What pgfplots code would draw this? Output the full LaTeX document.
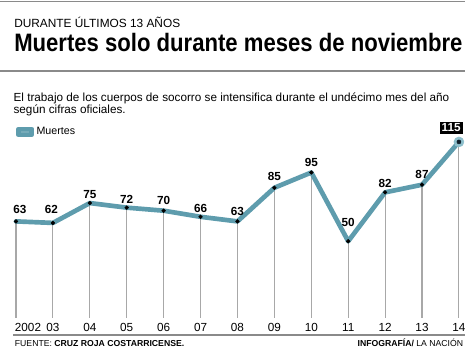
\documentclass[border=0pt]{standalone}
\usepackage{pgfplots}
\pgfplotsset{compat=1.18}
\usepackage{pgfplotstable}
\usepackage{fontspec}
\setmainfont{Liberation Sans}
\definecolor{lineteal}{HTML}{5E9CAD}
\definecolor{ringteal}{HTML}{8DBFCC}
\definecolor{rulegray}{HTML}{8A8A8A}
\definecolor{combgray}{HTML}{A8A8A8}
\definecolor{dotnavy}{HTML}{0F1E2A}
\pgfplotstableread{
x y yo xo
0 63 9.0 3.0
1 62 9.75 -1.1
2 75 6.75 0
3 72 6.0 0
4 70 7.5 0
5 66 6.4 0
6 63 7.5 0
7 85 8.25 0
8 95 7.3 0
9 50 13.9 0
10 82 6.75 0
11 87 7.9 0
}\labeled
\pgfplotstableread{
x y
0 63
1 62
2 75
3 72
4 70
5 66
6 63
7 85
8 95
9 50
10 82
11 87
12 115
}\full
\pgfplotstableread{
x y
12 115
}\last
\begin{document}
\begin{tikzpicture}
\path[use as bounding box] (0,0) rectangle (354pt,264.75pt);
% rules
\draw[rulegray, line width=1.1pt] (0,263.6pt) -- (348.75pt,263.6pt);
\draw[rulegray, line width=1.1pt] (0,211.5pt) -- (348.75pt,211.5pt);
\draw[rulegray, line width=0.8pt] (9.75pt,13.5pt) -- (348.75pt,13.5pt);
% titles
\node[anchor=base west, inner sep=0pt] at (10.5pt,243.75pt) {\fontsize{8.9}{10}\selectfont DURANTE ÚLTIMOS 13 AÑOS};
\node[anchor=base west, inner sep=0pt] at (10.5pt,225.75pt) {\scalebox{0.877}[1]{\fontsize{18.9}{20}\selectfont\bfseries Muertes solo durante meses de noviembre}};
\node[anchor=base west, inner sep=0pt] at (10pt,188.5pt) {\fontsize{8.8}{9}\selectfont El trabajo de los cuerpos de socorro se intensifica durante el undécimo mes del año};
\node[anchor=base west, inner sep=0pt] at (10pt,179.8pt) {\fontsize{8.8}{9}\selectfont según cifras oficiales.};
% footer
\node[anchor=base west, inner sep=0pt] at (11pt,4.7pt) {\fontsize{6.5}{8}\selectfont FUENTE: \textbf{CRUZ ROJA COSTARRICENSE.}};
\node[anchor=base east, inner sep=0pt] at (347.5pt,4.7pt) {\fontsize{6.5}{8}\selectfont \textbf{INFOGRAFÍA/} LA NACIÓN};
\begin{axis}[
  at={(12pt,26.5pt)}, anchor=south west,
  scale only axis, width=332.2pt, height=131.8pt,
  xmin=0, xmax=12, ymin=0, ymax=115,
  clip=false,
  axis line style={draw=none},
  tick style={draw=none},
  major tick length=0pt,
  ytick=\empty,
  xtick={0,...,12},
  xticklabels={\makebox[0pt][l]{\hspace*{-0.8pt}2002},03,04,05,06,07,08,09,10,11,12,13,14},
  xticklabel style={anchor=north, inner sep=0pt, yshift=-4pt, font=\fontsize{8.8}{10}\selectfont},
  /pgf/number format/assume math mode=true,
  legend style={at={(axis description cs:0,1.057)}, anchor=west, draw=none, fill=none, inner sep=0pt,
    font=\fontsize{8}{9}\selectfont, legend cell align=left},
  legend image code/.code={\fill[lineteal!85!white, draw=lineteal] (0pt,-2.25pt) rectangle (9.75pt,2.25pt);},
]
\addplot[ycomb, combgray, line width=0.8pt, forget plot] table[x=x,y=y] {\full};
\addplot[lineteal, line width=3.5pt, line join=round, line cap=round] table[x=x,y=y] {\full};
\addlegendentry{Muertes}
\addplot[only marks, mark=*, mark size=1.4pt, mark options={fill=black, draw=black},
  nodes near coords={\textbf{\pgfmathprintnumber{\pgfplotspointmeta}}}, point meta=explicit,
  visualization depends on={\thisrow{yo}\as\yo},
  visualization depends on={\thisrow{xo}\as\xo},
  nodes near coords style={anchor=center, font=\fontsize{8.8}{9}\selectfont\bfseries, yshift=\yo pt, xshift=\xo pt, inner sep=0pt},
  forget plot] table[x=x,y=y,meta=y] {\labeled};
\addplot[only marks, mark=*, mark size=3.75pt, mark options={fill=ringteal, draw=ringteal},
  forget plot] table[x=x,y=y] {\last};
\addplot[only marks, mark=*, mark size=1.5pt, mark options={fill=dotnavy, draw=dotnavy},
  nodes near coords={\textbf{\pgfmathprintnumber{\pgfplotspointmeta}}}, point meta=explicit,
  nodes near coords style={anchor=center, font=\fontsize{8.8}{9}\selectfont\bfseries, text=white, fill=black,
    inner xsep=1.4pt, inner ysep=1.4pt, yshift=10.5pt, xshift=-5.8pt},
  forget plot] table[x=x,y=y,meta=y] {\last};
\end{axis}
\end{tikzpicture}
\end{document}
